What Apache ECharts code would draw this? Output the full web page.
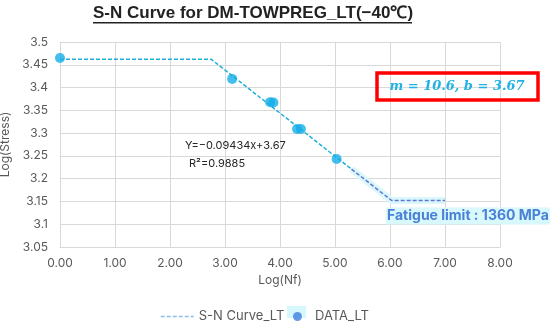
<!DOCTYPE html>
<html>
<head>
<meta charset="utf-8">
<script src="https://cdn.jsdelivr.net/npm/echarts@6/dist/echarts.min.js"></script>
<style>html,body{margin:0;padding:0;background:#fff}#c{width:550px;height:327px}</style>
</head>
<body>
<div id="c"></div>
<script>
// ---- data ----
var xTicks = [0, 1, 2, 3, 4, 5, 6, 7, 8];
var yTicks = [3.05, 3.1, 3.15, 3.2, 3.25, 3.3, 3.35, 3.4, 3.45, 3.5];
var dataX = [0.00, 3.13, 3.82, 3.88, 4.31, 4.38, 5.03];
var dataY = [3.465, 3.419, 3.368, 3.367, 3.309, 3.309, 3.243];
var curveX = [0.00, 2.75, 5.30];
var curveY = [3.462, 3.462, 3.221];
var tailX = [5.30, 6.03, 7.00];
var tailY = [3.221, 3.152, 3.152];
var titleText = 'S-N Curve for DM-TOWPREG_LT(\u221240\u2103)';
var eqText = 'Y=\u22120.09434x+3.67';
var r2Text = 'R\u00b2=0.9885';
var boxText = 'm = 10.6, b = 3.67';
var limitText = 'Fatigue limit : 1360 MPa';

function zip(a, b) { return a.map(function (v, i) { return [v, b[i]]; }); }

var chart = echarts.init(document.getElementById('c'));
chart.setOption({
  animation: false,
  grid: { left: 60, right: 50, top: 42, bottom: 80, containLabel: false, outerBoundsMode: 'none' },
  xAxis: {
    type: 'value', min: 0, max: 8, interval: 1,
    name: 'Log(Nf)', nameLocation: 'middle', nameGap: 23,
    nameTextStyle: { color: '#595959', fontSize: 12, fontFamily: 'Inter' },
    axisLine: { show: true, lineStyle: { color: '#d9d9d9' } },
    axisTick: { show: false },
    axisLabel: { color: '#595959', fontSize: 12, fontFamily: 'Inter', margin: 10,
      formatter: function (v) { return v.toFixed(2); } },
    splitLine: { lineStyle: { color: '#d9d9d9' } }
  },
  yAxis: {
    type: 'value', min: 3.05, max: 3.5, interval: 0.05,
    name: 'Log(Stress)', nameLocation: 'middle', nameGap: 37,
    nameTextStyle: { color: '#595959', fontSize: 12, fontFamily: 'Inter' },
    axisLine: { show: true, lineStyle: { color: '#d9d9d9' } },
    axisTick: { show: false },
    axisLabel: { color: '#595959', fontSize: 12, fontFamily: 'Inter', margin: 12,
      formatter: function (v) { return String(Math.round(v * 100) / 100); } },
    splitLine: { lineStyle: { color: '#d9d9d9' } }
  },
  legend: [
    { left: 155, top: 305, itemWidth: 33, itemHeight: 10, itemGap: 4,
      textStyle: { color: '#595959', fontSize: 13, fontFamily: 'Inter' },
      data: [{ name: 'S-N Curve_LT', itemStyle: { opacity: 0 }, lineStyle: { color: '#8cc0ea', type: [4, 2], width: 1.5 } }] },
    { left: 288, top: 305, itemWidth: 17, itemHeight: 9, itemGap: 4,
      textStyle: { color: '#595959', fontSize: 13, fontFamily: 'Inter', padding: [0, 0, 0, 4] },
      data: [{ name: 'DATA_LT', icon: 'circle', itemStyle: { color: '#3d7fe0' } }] }
  ],
  graphic: [
    { type: 'rect', z: 0, shape: { x: 287, y: 306, width: 19, height: 12 }, style: { fill: '#d6f7fb' } },
    { type: 'text', z: 10, x: 93, y: 5,
      style: { text: titleText, fontSize: 17, fontWeight: 'bold', fontFamily: 'Liberation Sans, Arial', fill: '#222222' } },
    { type: 'rect', z: 10, shape: { x: 93, y: 22, width: 319, height: 1.5 }, style: { fill: '#222222' } },
    { type: 'rect', z: 10, shape: { x: 377, y: 73, width: 161, height: 27 },
      style: { fill: 'none', stroke: '#ff0000', lineWidth: 3.5 } },
    { type: 'text', z: 11, x: 457, y: 87,
      style: { text: boxText, fontSize: 13, fontWeight: 'bold', fontStyle: 'italic', fontFamily: 'DejaVu Serif', fill: '#1fb2e3', textAlign: 'center', textVerticalAlign: 'middle' } },
    { type: 'text', z: 11, x: 185, y: 140,
      style: { text: eqText, fontSize: 11, fontFamily: 'Inter', fill: '#262626' } },
    { type: 'text', z: 11, x: 189, y: 158,
      style: { text: r2Text, fontSize: 11, fontFamily: 'Inter', fill: '#262626' } },
    { type: 'text', z: 11, x: 386, y: 216,
      style: { text: limitText, fontSize: 14, fontWeight: 'bold', fontFamily: 'Inter', fill: '#4a80d6', backgroundColor: '#d8f8fc', padding: [2, 1, 1, 1], textVerticalAlign: 'middle' } }
  ],
  series: [
    { name: 'S-N Curve_LT', type: 'line', data: zip(curveX, curveY), symbol: 'none', z: 2,
      lineStyle: { color: '#1cb0d8', type: [4, 2], width: 1.5 }, itemStyle: { color: '#8cc0ea' } },
    { name: 'tail-glow', type: 'line', data: zip(tailX, tailY), symbol: 'none', z: 1, silent: true,
      lineStyle: { color: '#d9f8fc', width: 7 } },
    { name: 'tail', type: 'line', data: zip(tailX, tailY), symbol: 'none', z: 3, silent: true,
      lineStyle: { color: '#6a73cf', type: [4, 2], width: 1.5 } },
    { name: 'DATA_LT', type: 'scatter', data: zip(dataX, dataY), symbol: 'circle', symbolSize: 10, z: 4,
      itemStyle: { color: '#14aee8' } }
  ]
});
</script>
</body>
</html>
